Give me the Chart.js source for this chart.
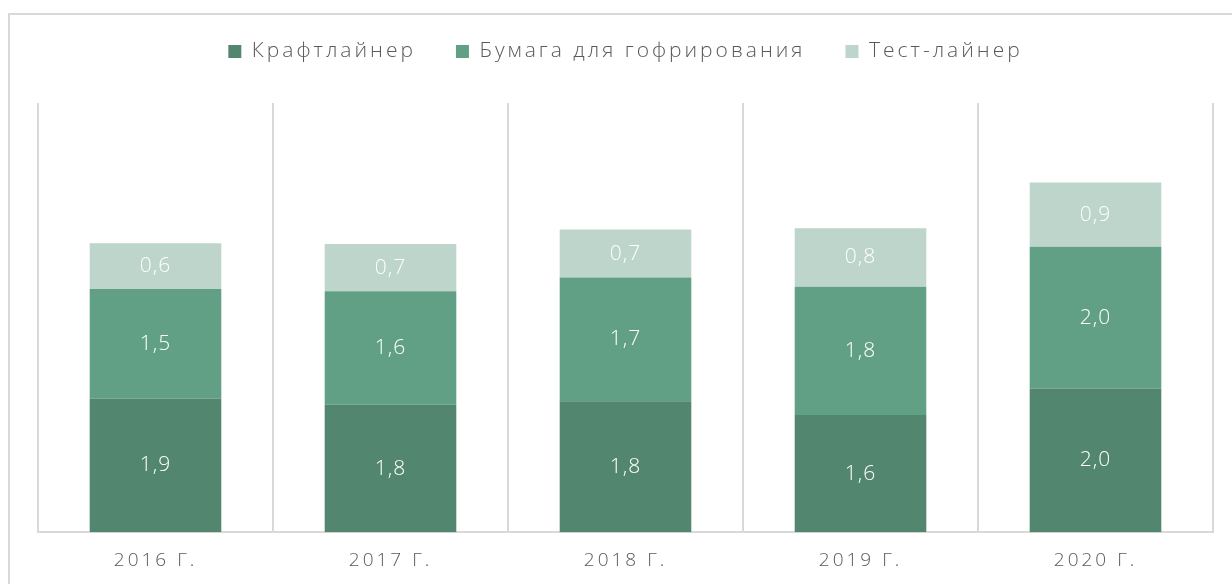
<!DOCTYPE html>
<html lang="ru">
<head>
<meta charset="utf-8">
<script src="https://cdn.jsdelivr.net/npm/chart.js@4.4.1/dist/chart.umd.min.js"></script>
<style>
    html, body { margin: 0; padding: 0; background: #fff; overflow: hidden; }
    #wrap { position: relative; width: 1232px; height: 584px; }
    #frame {
        position: absolute; left: 8px; top: 13px; width: 1300px; height: 700px;
        border: 2px solid #d9d9d9; box-sizing: border-box;
    }
    canvas { position: absolute; left: 0; top: 0; }
</style>
</head>
<body>
<div id="wrap">
    <div id="frame"></div>
    <canvas id="chart" width="1232" height="584"></canvas>
</div>
<script>
// Data
const years = ['2016 Г.', '2017 Г.', '2018 Г.', '2019 Г.', '2020 Г.'];
const kraftliner = [1.87, 1.78, 1.83, 1.64, 2.01];
const fluting = [1.53, 1.59, 1.73, 1.79, 1.98];
const testliner = [0.64, 0.66, 0.67, 0.82, 0.90];
const seriesNames = ['Крафтлайнер', 'Бумага для гофрирования', 'Тест-лайнер'];
const seriesColors = ['#52866f', '#62a086', '#bdd5ca'];

const FONT = "'Open Sans', 'Noto Sans', sans-serif";
const TEXT_GRAY = '#595959';
const GRID_GRAY = '#d9d9d9';

// Run a box's method with extra letter spacing on the canvas
function withSpacing(box, name, spacing) {
    const orig = box[name];
    box[name] = function (...args) {
        const c = this.ctx;
        c.save();
        c.letterSpacing = spacing;
        const out = orig.apply(this, args);
        c.restore();
        return out;
    };
}

// Draws the value inside each bar segment
const barLabels = {
    id: 'barLabels',
    afterDatasetsDraw(chart) {
        const ctx = chart.ctx;
        ctx.save();
        ctx.fillStyle = '#ffffff';
        ctx.font = '300 21px ' + FONT;
        ctx.letterSpacing = '1px';
        ctx.textAlign = 'center';
        ctx.textBaseline = 'middle';
        chart.data.datasets.forEach((ds, i) => {
            chart.getDatasetMeta(i).data.forEach((bar, j) => {
                const text = ds.data[j].toFixed(1).replace('.', ',');
                ctx.fillText(text, bar.x, (bar.y + bar.base) / 2);
            });
        });
        ctx.restore();
    }
};

// Wider lettering on the legend and the year labels, extra room under the legend
const spacing = {
    id: 'spacing',
    beforeLayout(chart) {
        const legend = chart.legend;
        if (legend && !legend._spaced) {
            withSpacing(legend, 'draw', '3px');
            const fit = legend.fit;
            legend.fit = function () {
                const c = this.ctx;
                c.save();
                c.letterSpacing = '3px';
                fit.call(this);
                c.restore();
                this.height += 31;
            };
            legend._spaced = true;
        }
        const scale = chart.scales.x;
        if (scale && !scale._spaced) {
            withSpacing(scale, 'draw', '3px');
            scale._spaced = true;
        }
    }
};

const ctx = document.getElementById('chart').getContext('2d');
new Chart(ctx, {
    type: 'bar',
    data: {
        labels: years,
        datasets: [kraftliner, fluting, testliner].map((values, i) => ({
            label: seriesNames[i],
            data: values,
            backgroundColor: seriesColors[i],
            borderWidth: 0,
            categoryPercentage: 1,
            barPercentage: 0.56
        }))
    },
    options: {
        responsive: false,
        animation: false,
        layout: { padding: { left: 38, right: 19, top: 1, bottom: -5 } },
        plugins: {
            tooltip: { enabled: false },
            legend: {
                position: 'top',
                labels: {
                    boxWidth: 13,
                    boxHeight: 13,
                    padding: 40,
                    color: TEXT_GRAY,
                    font: { family: FONT, size: 21, weight: '300' }
                }
            }
        },
        scales: {
            x: {
                stacked: true,
                offset: true,
                grid: {
                    offset: true,
                    color: GRID_GRAY,
                    lineWidth: 2,
                    tickLength: 0,
                    drawTicks: false
                },
                border: { display: true, color: GRID_GRAY, width: 2 },
                ticks: {
                    color: TEXT_GRAY,
                    padding: 17,
                    font: { family: FONT, size: 19, weight: '300' }
                }
            },
            y: {
                stacked: true,
                display: false,
                min: 0,
                max: 6
            }
        }
    },
    plugins: [barLabels, spacing]
});
</script>
</body>
</html>
